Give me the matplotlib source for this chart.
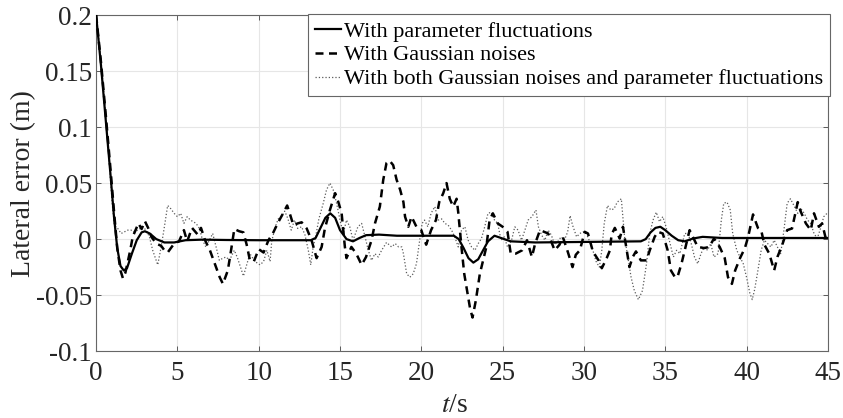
import numpy as np
import matplotlib.pyplot as plt

plt.rcParams['font.family'] = ['Liberation Serif', 'DejaVu Serif']
plt.rcParams['mathtext.fontset'] = 'stix'

# lateral error with parameter fluctuations
t_param = [0, 0.3, 0.6, 0.9, 1.1, 1.3, 1.5, 1.7, 1.9, 2.2, 2.5, 2.8, 3.0, 3.3, 3.7,
           4.2, 4.8, 5.5, 6.5, 8.0, 10.0, 13.2, 13.5, 13.8, 14.1, 14.4, 14.7, 15.0,
           15.4, 15.8, 16.2, 16.6, 17.4, 18.5, 22.0, 22.3, 22.6, 22.9, 23.2, 23.5,
           23.8, 24.1, 24.5, 24.9, 25.5, 27.0, 33.5, 33.8, 34.1, 34.4, 34.7, 35.0,
           35.4, 35.8, 36.2, 36.7, 37.3, 38.5, 45.0]
e_param = [0.2, 0.155, 0.105, 0.055, 0.02, -0.008, -0.024, -0.028, -0.026, -0.013,
           -0.001, 0.006, 0.007, 0.005, 0.0, -0.003, -0.003, -0.001, -0.0005,
           -0.0008, -0.001, -0.001, 0.001, 0.010, 0.019, 0.023, 0.019, 0.008, 0.0,
           -0.002, 0.001, 0.0035, 0.004, 0.003, 0.003, 0.0, -0.008, -0.017, -0.021,
           -0.018, -0.010, -0.002, 0.003, 0.001, -0.002, -0.003, -0.002, 0.0, 0.006,
           0.010, 0.011, 0.008, 0.003, -0.001, -0.002, 0.0005, 0.002, 0.001, 0.001]

# lateral error with gaussian noises
t_noise = [0, 0.3, 0.6, 0.9, 1.1, 1.3, 1.5, 1.65, 1.8, 2.1, 2.25, 2.6, 2.8, 3.0, 3.2,
           3.4, 3.7, 4.0, 4.2, 4.4, 4.6, 4.8, 5.1, 5.4, 5.6, 5.9, 6.25, 6.45, 6.7,
           7.0, 7.3, 7.6, 7.8, 8.1, 8.3, 8.5, 8.8, 9.06, 9.26, 9.46, 9.7, 10.0, 10.3,
           10.6, 10.9, 11.2, 11.5, 11.75, 11.95, 12.13, 12.4, 12.64, 12.95, 13.25,
           13.56, 13.87, 14.07, 14.38, 14.7, 14.9, 15.1, 15.3, 15.4, 15.7, 16.0,
           16.33, 16.6, 16.94, 17.15, 17.45, 17.66, 17.86, 18.05, 18.27, 18.48, 18.7,
           18.9, 19.0, 19.2, 19.4, 19.7, 20.0, 20.2, 20.3, 20.6, 20.9, 21.1, 21.35,
           21.55, 21.75, 21.96, 22.17, 22.27, 22.47, 22.64, 22.78, 23.0, 23.15,
           23.35, 23.6, 23.8, 24.0, 24.2, 24.4, 24.7, 25.0, 25.3, 25.5, 25.8, 26.2,
           26.5, 26.8, 27.0, 27.3, 27.8, 28.2, 28.5, 28.7, 29.0, 29.3, 29.5, 29.75,
           30.05, 30.25, 30.55, 30.9, 31.1, 31.4, 31.6, 31.7, 31.9, 32.2, 32.4, 32.6,
           32.8, 33.0, 33.2, 33.5, 33.85, 34.05, 34.35, 34.55, 34.85, 35.15, 35.35,
           35.6, 35.75, 36.0, 36.3, 36.5, 36.7, 37.0, 37.4, 37.7, 38.0, 38.35, 38.66,
           38.86, 39.1, 39.3, 39.6, 39.9, 40.1, 40.4, 40.7, 40.9, 41.1, 41.4, 41.7,
           41.9, 42.2, 42.5, 42.8, 43.15, 43.35, 43.65, 43.95, 44.15, 44.45, 44.65,
           44.85, 45.0]
e_noise = [0.2, 0.158, 0.11, 0.06, 0.025, -0.008, -0.028, -0.035, -0.03, -0.010,
           0.002, 0.014, 0.009, 0.016, 0.010, 0.002, -0.004, -0.006, -0.010, -0.012,
           -0.008, -0.004, -0.002, 0.008, -0.002, 0.010, 0.004, 0.010, -0.001,
           -0.010, -0.022, -0.034, -0.040, -0.028, -0.010, 0.009, 0.007, 0.006,
           -0.005, -0.019, -0.020, -0.009, -0.012, -0.001, 0.006, 0.015, 0.023,
           0.030, 0.021, 0.0125, 0.014, 0.015, 0.0095, -0.001, -0.017, -0.007,
           0.0095, 0.026, 0.041, 0.033, 0.023, -0.007, -0.017, -0.007, -0.013,
           -0.023, -0.016, -0.001, 0.014, 0.029, 0.053, 0.068, 0.070, 0.066, 0.053,
           0.044, 0.033, 0.020, 0.011, 0.020, 0.011, 0.008, -0.001, -0.005, 0.008,
           0.017, 0.033, 0.041, 0.050, 0.036, 0.029, 0.036, 0.024, -0.007, -0.031,
           -0.043, -0.062, -0.070, -0.055, -0.031, -0.019, -0.007, 0.017, 0.023,
           0.014, 0.011, 0.0065, -0.013, -0.013, -0.010, -0.001, -0.016, -0.004,
           0.008, 0.005, -0.010, -0.005, 0.002, -0.011, -0.025, -0.014, -0.010,
           0.0065, 0.005, -0.011, -0.019, -0.026, -0.017, -0.010, 0.004, 0.010,
           0.0005, 0.011, -0.007, -0.025, -0.016, -0.011, -0.019, -0.019, -0.010,
           0.002, 0.0065, 0.005, -0.010, -0.028, -0.034, -0.034, -0.022, -0.004,
           0.008, 0.002, -0.007, -0.008, -0.007, 0.0005, -0.007, -0.017, -0.034,
           -0.040, -0.028, -0.017, -0.008, 0.002, 0.022, 0.010, 0.008, -0.005,
           -0.013, -0.028, -0.016, -0.005, 0.008, 0.0095, 0.033, 0.024, 0.014, 0.008,
           0.023, 0.011, 0.014, 0.002, -0.002]

# lateral error with both noises and parameter fluctuations
t_both = [0, 0.3, 0.6, 0.85, 1.0, 1.13, 1.33, 1.54, 1.74, 1.95, 2.15, 2.36, 2.56,
          2.87, 3.07, 3.28, 3.48, 3.69, 3.79, 4.0, 4.2, 4.4, 4.6, 4.8, 5.0, 5.2, 5.4,
          5.6, 5.8, 6.15, 6.35, 6.55, 6.75, 6.97, 7.17, 7.38, 7.58, 7.8, 8.0, 8.2,
          8.5, 8.7, 9.06, 9.26, 9.46, 9.77, 10.08, 10.3, 10.5, 10.7, 10.8, 11.0,
          11.2, 11.4, 11.6, 11.8, 12.0, 12.2, 12.4, 12.64, 12.85, 13.05, 13.2, 13.35,
          13.5, 13.7, 13.97, 14.17, 14.38, 14.58, 14.79, 15.0, 15.2, 15.4, 15.6,
          15.8, 16.1, 16.33, 16.54, 16.74, 16.94, 17.15, 17.35, 17.56, 17.86, 18.17,
          18.4, 18.6, 18.8, 18.9, 19.1, 19.3, 19.5, 19.7, 19.9, 20.05, 20.2, 20.4,
          20.6, 20.83, 21.04, 21.25, 21.45, 21.65, 21.86, 22.06, 22.27, 22.47,
          22.68, 22.88, 23.09, 23.3, 23.5, 23.7, 23.9, 24.1, 24.3, 24.5, 24.7, 24.9,
          25.1, 25.3, 25.55, 25.75, 25.95, 26.16, 26.37, 26.57, 26.8, 27.05, 27.2,
          27.4, 27.6, 27.8, 28.0, 28.2, 28.4, 28.6, 28.8, 29.0, 29.15, 29.3, 29.55,
          29.75, 29.95, 30.15, 30.35, 30.55, 30.75, 30.95, 31.1, 31.25, 31.45,
          31.65, 31.85, 32.05, 32.3, 32.5, 32.7, 32.9, 33.1, 33.35, 33.6, 33.85,
          34.05, 34.25, 34.45, 34.65, 34.85, 35.05, 35.25, 35.5, 35.7, 35.9, 36.0,
          36.2, 36.4, 36.6, 36.8, 37.0, 37.2, 37.4, 37.6, 37.8, 38.0, 38.25, 38.45,
          38.6, 38.8, 39.0, 39.15, 39.4, 39.6, 39.8, 40.0, 40.2, 40.35, 40.5, 40.7,
          40.9, 41.1, 41.3, 41.5, 41.7, 41.9, 42.1, 42.3, 42.5, 42.7, 42.95, 43.15,
          43.35, 43.55, 43.75, 43.95, 44.15, 44.35, 44.55, 44.75, 44.95]
e_both = [0.2, 0.16, 0.11, 0.06, 0.03, 0.0125, 0.0095, 0.005, 0.0065, 0.008, 0.008,
          0.0065, 0.008, 0.011, 0.008, 0.002, -0.010, -0.019, -0.023, -0.007, 0.011,
          0.030, 0.027, 0.023, 0.020, 0.023, 0.014, 0.020, 0.017, 0.014, 0.0095,
          -0.001, -0.007, -0.001, 0.005, -0.007, -0.019, -0.017, -0.016, -0.019,
          -0.010, -0.017, -0.033, -0.023, -0.013, -0.020, -0.023, -0.020, -0.010,
          -0.020, -0.002, 0.010, 0.018, 0.020, 0.025, 0.018, 0.008, 0.017, 0.0095,
          0.011, 0.0035, -0.010, -0.023, -0.007, 0.002, 0.018, 0.032, 0.044, 0.050,
          0.044, 0.032, 0.017, 0.005, 0.017, 0.011, -0.001, 0.011, 0.014, 0.002,
          -0.010, -0.019, -0.013, -0.016, -0.010, -0.003, -0.007, -0.004, -0.007,
          -0.007, -0.013, -0.031, -0.034, -0.031, -0.022, -0.001, 0.014, 0.017,
          0.011, 0.023, 0.029, 0.017, 0.018, 0.014, 0.0125, 0.008, 0.002, -0.007,
          0.008, 0.011, -0.001, -0.007, -0.010, -0.004, 0.0006, 0.011, 0.023, 0.024,
          0.017, 0.014, -0.001, 0.002, -0.007, -0.001, 0.011, 0.008, -0.001, 0.008,
          0.017, 0.020, 0.026, 0.011, 0.0035, -0.001, 0.008, 0.0035, -0.005, -0.002,
          0.002, -0.001, 0.0065, 0.021, 0.0125, 0.002, 0.005, 0.0065, 0.005, -0.002,
          -0.010, -0.020, -0.025, -0.010, 0.014, 0.030, 0.026, 0.027, 0.033, 0.036,
          0.002, -0.016, -0.034, -0.046, -0.054, -0.046, -0.022, 0.005, 0.017,
          0.024, 0.0155, 0.020, 0.011, -0.001, -0.016, -0.010, -0.013, -0.007,
          0.005, 0.005, -0.004, -0.016, -0.022, -0.013, -0.007, -0.010, -0.004,
          -0.016, -0.013, 0.017, 0.032, 0.033, 0.026, 0.005, -0.010, -0.016, -0.022,
          -0.034, -0.048, -0.054, -0.045, -0.028, -0.010, -0.001, -0.004, -0.007,
          -0.001, -0.007, -0.013, 0.008, 0.032, 0.036, 0.029, 0.023, 0.027, 0.023,
          0.017, 0.014, 0.005, 0.0006, 0.0095, 0.020, 0.023]

xticks = np.arange(0, 46, 5)
yticks = [-0.1, -0.05, 0, 0.05, 0.1, 0.15, 0.2]
ytick_labels = ['-0.1', '-0.05', '0', '0.05', '0.1', '0.15', '0.2']

fig = plt.figure(figsize=(8.43, 4.18), dpi=100)
ax = fig.add_axes([0.114, 0.160, 0.868, 0.804])

ax.plot(t_both, e_both, linestyle=':', color='#5a5a5a', linewidth=0.9, zorder=2,
        label='With both Gaussian noises and parameter fluctuations')
ax.plot(t_noise, e_noise, linestyle='--', dashes=(3.2, 2.2), color='black',
        linewidth=1.8, zorder=3, label='With Gaussian noises')
ax.plot(t_param, e_param, '-', color='black', linewidth=1.6, zorder=4,
        label='With parameter fluctuations')

ax.set_xlim(0, 45)
ax.set_ylim(-0.1, 0.2)
ax.set_xticks(xticks)
ax.set_yticks(yticks)
ax.set_yticklabels(ytick_labels)
ax.grid(True, color='#e6e6e6', linewidth=0.8)
ax.set_axisbelow(True)
ax.tick_params(direction='in', top=True, right=True, length=3.5, width=0.6,
               colors='#444444', labelcolor='#262626', labelsize=19.5)
ax.tick_params(axis='x', pad=7)
ax.tick_params(axis='y', pad=3)
for sp in ax.spines.values():
    sp.set_color('#666666')
    sp.set_linewidth(0.8)

ax.set_xlabel(r'$\mathit{t}$/s', fontsize=20, color='#262626', labelpad=5)
ax.xaxis.label.set_x(0.49)
ax.set_ylabel('Lateral error (m)', fontsize=20, color='#262626', labelpad=0)

handles, labels = ax.get_legend_handles_labels()
order = [2, 1, 0]
leg = ax.legend([handles[i] for i in order], [labels[i] for i in order],
                loc='upper right', bbox_to_anchor=(1.003, 1.002), fontsize=16,
                frameon=True, fancybox=False, framealpha=1, edgecolor='#666666',
                handlelength=1.2, handletextpad=0.13, labelspacing=0.15,
                borderpad=0.3, borderaxespad=0.0)
leg.get_frame().set_linewidth(0.8)

fig.savefig('out.png', dpi=100)
